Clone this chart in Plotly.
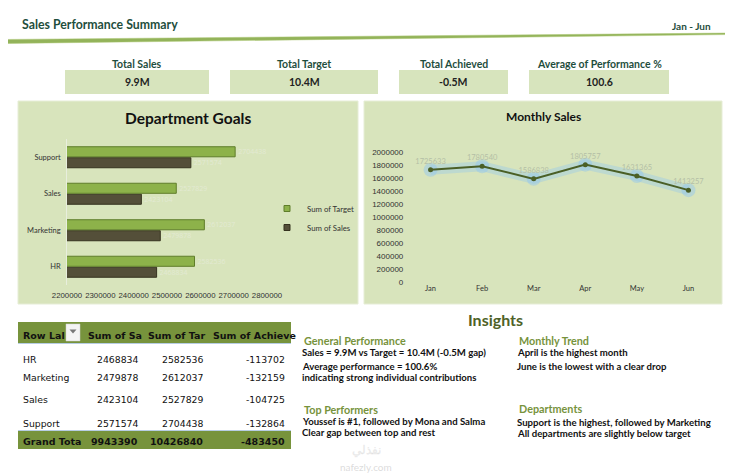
import plotly.graph_objects as go

# data
departments = ["HR", "Marketing", "Sales", "Support"]
dept_sales = [2468834, 2479878, 2423104, 2571574]
dept_target = [2582536, 2612037, 2527829, 2704438]
dept_achieved = [-113702, -132159, -104725, -132864]

months = ["Jan", "Feb", "Mar", "Apr", "May", "Jun"]
monthly_sales = [1725633, 1780540, 1586838, 1805757, 1631365, 1413257]

kpi_names = ["Total Sales", "Total Target", "Total Achieved", "Average of Performance %"]
kpi_values = ["9.9M", "10.4M", "-0.5M", "100.6"]

table_headers = ["Row Lal", "Sum of Sa", "Sum of Tar", "Sum of Achieve"]

# page puts the plot 8px in from the corner, so size it to fill the rest
OFF = 8
W, H = 733 - OFF, 474 - OFF
DARK_GREEN = "#1f4e3d"
OLIVE = "#77933c"
PANEL = "#d8e4bc"
TARGET_GREEN = "#8db24a"
SALES_BROWN = "#544f39"


# positions below are in screen pixels of the 733x474 window
def px(x):
    return (x - OFF) / W


def py(y):
    return 1 - (y - OFF) / H


fig = go.Figure()

# ---- Department Goals (grouped horizontal bars)
fig.add_trace(go.Bar(
    y=departments, x=dept_sales, orientation="h", name="Sum of Sales",
    marker=dict(color=SALES_BROWN, line=dict(color="#35321f", width=1)),
    text=[str(v) for v in dept_sales], textposition="outside",
    textfont=dict(size=7, color="#e3ead3"), cliponaxis=False,
    xaxis="x", yaxis="y", showlegend=False,
))
fig.add_trace(go.Bar(
    y=departments, x=dept_target, orientation="h", name="Sum of Target",
    marker=dict(color=TARGET_GREEN, line=dict(color="#5f7d2a", width=1)),
    text=[str(v) for v in dept_target], textposition="outside",
    textfont=dict(size=7, color="#e3ead3"), cliponaxis=False,
    xaxis="x", yaxis="y", showlegend=False,
))
# legend entries with small square keys
fig.add_trace(go.Scatter(x=[None], y=[None], mode="markers", name="Sum of Target",
                         marker=dict(symbol="square", size=6, color=TARGET_GREEN,
                                     line=dict(color="#5f7d2a", width=1)),
                         xaxis="x", yaxis="y"))
fig.add_trace(go.Scatter(x=[None], y=[None], mode="markers", name="Sum of Sales",
                         marker=dict(symbol="square", size=6, color=SALES_BROWN,
                                     line=dict(color="#35321f", width=1)),
                         xaxis="x", yaxis="y"))

# ---- Monthly Sales line (glow underneath + line)
fig.add_trace(go.Scatter(
    x=months, y=monthly_sales, mode="lines+markers",
    line=dict(color="rgba(150,200,235,0.4)", width=10),
    marker=dict(size=14, color="rgba(150,200,235,0.5)"),
    hoverinfo="skip", showlegend=False, xaxis="x2", yaxis="y2",
))
fig.add_trace(go.Scatter(
    x=months, y=monthly_sales, mode="lines+markers+text",
    line=dict(color="#4a5f26", width=2),
    marker=dict(size=5, color="#4a5f26"),
    text=[str(v) for v in monthly_sales], textposition="top center",
    textfont=dict(size=7.5, color="#b4bfa6", family="Lato"),
    showlegend=False, xaxis="x2", yaxis="y2", cliponaxis=False,
))

shapes = []
annotations = []

# swoosh under the title
shapes.append(dict(type="path", xref="paper", yref="paper",
                   path=f"M {px(0)} {py(39.5)} L {px(733)} {py(33)} L {px(733)} {py(34.5)} L {px(0)} {py(43.5)} Z",
                   fillcolor="#93b35a", line=dict(color="#a9c46f", width=0.5)))

annotations.append(dict(text="<b>Sales Performance Summary</b>", x=px(20), y=py(25), xanchor="left",
                        font=dict(size=12.3, color=DARK_GREEN, family="Lato")))
annotations.append(dict(text="<b>Jan - Jun</b>", x=px(713), y=py(26), xanchor="right",
                        font=dict(size=10, color=DARK_GREEN, family="Lato")))

# KPI cards
kpi_boxes = [(65, 209), (230, 378), (399, 508), (529, 669)]
for (x0, x1), name, val in zip(kpi_boxes, kpi_names, kpi_values):
    shapes.append(dict(type="rect", xref="paper", yref="paper", x0=px(x0), x1=px(x1), y0=py(94), y1=py(70),
                       fillcolor="#d7e4bd", line_width=0, layer="below"))
    annotations.append(dict(text=f"<b>{name}</b>", x=px((x0 + x1) / 2), y=py(64),
                            font=dict(size=10.5, color=DARK_GREEN, family="Lato")))
    annotations.append(dict(text=f"<b>{val}</b>", x=px((x0 + x1) / 2), y=py(82),
                            font=dict(size=10.5, color="#222222", family="Lato")))

# chart panels
for x0, x1 in [(18, 358), (364, 722)]:
    shapes.append(dict(type="rect", xref="paper", yref="paper", x0=px(x0), x1=px(x1), y0=py(304), y1=py(101),
                       fillcolor=PANEL, line=dict(color="#e6edd6", width=1), layer="below"))
annotations.append(dict(text="<b>Department Goals</b>", x=px(188), y=py(118),
                        font=dict(size=15.5, color="#111111", family="Lato")))
annotations.append(dict(text="<b>Monthly Sales</b>", x=px(543), y=py(117),
                        font=dict(size=12, color="#111111", family="Lato")))

# ---- pivot table
shapes.append(dict(type="rect", xref="paper", yref="paper", x0=px(18), x1=px(291), y0=py(343), y1=py(322),
                   fillcolor=OLIVE, line_width=0))
shapes.append(dict(type="line", xref="paper", yref="paper", x0=px(18), x1=px(291), y0=py(343.5), y1=py(343.5),
                   line=dict(color="#b7cde3", width=1)))
shapes.append(dict(type="rect", xref="paper", yref="paper", x0=px(18), x1=px(291), y0=py(449), y1=py(431),
                   fillcolor=OLIVE, line_width=0))
shapes.append(dict(type="line", xref="paper", yref="paper", x0=px(18), x1=px(291), y0=py(430.5), y1=py(430.5),
                   line=dict(color="#b7cde3", width=1)))
# filter dropdown button
shapes.append(dict(type="rect", xref="paper", yref="paper", x0=px(66), x1=px(80), y0=py(341), y1=py(324),
                   fillcolor="#f4f4f4", line=dict(color="#d0d0d0", width=0.5)))
shapes.append(dict(type="path", xref="paper", yref="paper",
                   path=f"M {px(69.5)} {py(329.5)} L {px(76.5)} {py(329.5)} L {px(73)} {py(333.5)} Z",
                   fillcolor="#777777", line_width=0))

header_x = [21, 86, 146, 211]
for hx, h in zip(header_x, table_headers):
    annotations.append(dict(text=f"<b>{h}</b>", x=px(hx), y=py(335), xanchor="left",
                            font=dict(size=9.5, color="#111111", family="DejaVu Sans")))

row_y = [359, 377, 399, 423]
col_right = [140, 205, 287]
for yy, d, s, t, a in zip(row_y, departments, dept_sales, dept_target, dept_achieved):
    annotations.append(dict(text=d, x=px(21), y=py(yy), xanchor="left",
                            font=dict(size=9.3, color="#111111", family="DejaVu Sans")))
    for cx, v in zip(col_right, [s, t, a]):
        annotations.append(dict(text=str(v), x=px(cx), y=py(yy), xanchor="right",
                                font=dict(size=9.3, color="#111111", family="DejaVu Sans")))
annotations.append(dict(text="<b>Grand Tota</b>", x=px(21), y=py(441), xanchor="left",
                        font=dict(size=9.5, color="#111111", family="DejaVu Sans")))
for cx, v in zip(col_right, [sum(dept_sales), sum(dept_target), sum(dept_achieved)]):
    annotations.append(dict(text=f"<b>{v}</b>", x=px(cx), y=py(441), xanchor="right",
                            font=dict(size=9.5, color="#111111", family="DejaVu Sans")))

# ---- insights
annotations.append(dict(text="<b>Insights</b>", x=px(495), y=py(319),
                        font=dict(size=16, color="#4f6228", family="Lato")))
insight_blocks = [
    (302, 340, "General Performance", ["Sales = 9.9M vs Target = 10.4M (-0.5M gap)",
                                       "Average performance = 100.6%",
                                       "indicating strong individual contributions"]),
    (302, 409, "Top Performers", ["Youssef is #1, followed by Mona and Salma",
                                  "Clear gap between top and rest"]),
    (517, 340, "Monthly Trend", ["April is the highest month",
                                 "June is the lowest with a clear drop"]),
    (517, 408, "Departments", ["Support is the highest, followed by Marketing",
                               "All departments are slightly below target"]),
]
line_steps = [[12, 26.5, 37], [12, 23.5], [12, 26.5], [14, 25.5]]
for (bx, by, title, lines), steps in zip(insight_blocks, line_steps):
    annotations.append(dict(text=f"<b>{title}</b>", x=px(bx), y=py(by), xanchor="left",
                            font=dict(size=10.8, color=OLIVE, family="Lato")))
    for ln, st in zip(lines, steps):
        annotations.append(dict(text=f"<b>{ln}</b>", x=px(bx - 2), y=py(by + st), xanchor="left",
                                font=dict(size=9.6, color="#111111", family="Lato")))

# faint watermark
annotations.append(dict(text="<b>نفذلي</b>", x=px(366), y=py(449),
                        font=dict(size=12, color="rgba(195,195,195,0.35)", family="Noto Sans")))
annotations.append(dict(text="nafezly.com", x=px(366), y=py(467),
                        font=dict(size=10, color="rgba(190,190,190,0.55)", family="Lato")))

for a in annotations:
    a.setdefault("xref", "paper")
    a.setdefault("yref", "paper")
    a.setdefault("showarrow", False)
    a.setdefault("xanchor", "center")
    a.setdefault("yanchor", "middle")

fig.update_layout(
    width=W, height=H, margin=dict(l=0, r=0, t=0, b=0, pad=0, autoexpand=False),
    paper_bgcolor="white", plot_bgcolor="rgba(0,0,0,0)",
    barmode="group", bargap=0.4, bargroupgap=0.08,
    showlegend=True,
    legend=dict(x=px(267), y=py(194), xanchor="left", yanchor="top", bgcolor="rgba(0,0,0,0)",
                font=dict(size=7.8, color="#333333", family="Lato"), tracegroupgap=0,
                itemwidth=30),
    xaxis=dict(domain=[px(67), px(267)], range=[2200000, 2800000], dtick=100000,
               tickformat="d", showgrid=False, zeroline=False, showline=False, automargin=False,
               tickangle=0, ticklabelstandoff=4,
               tickfont=dict(size=7.8, color="#333333", family="Liberation Sans"), ticks="",
               anchor="y"),
    yaxis=dict(domain=[py(285), py(139)], categoryorder="array", categoryarray=departments,
               showgrid=False, zeroline=False, showline=True, linecolor="#e8eedd", linewidth=1,
               automargin=False,
               tickfont=dict(size=7.5, color="#333333", family="Lato"), ticks="", ticksuffix="  ",
               anchor="x"),
    xaxis2=dict(domain=[px(406.5), px(712.5)], showgrid=False, zeroline=False, showline=False,
                automargin=False,
                tickfont=dict(size=7.5, color="#333333", family="Lato"), ticks="", anchor="y2"),
    yaxis2=dict(domain=[py(282), py(152)], range=[0, 2000000], dtick=200000, tickformat="d",
                showgrid=False, zeroline=False, showline=False, automargin=False,
                tickfont=dict(size=8, color="#333333", family="Liberation Sans"), ticks="",
                ticksuffix=" ", anchor="x2"),
    shapes=shapes, annotations=annotations,
)

fig.write_html("out.html")
